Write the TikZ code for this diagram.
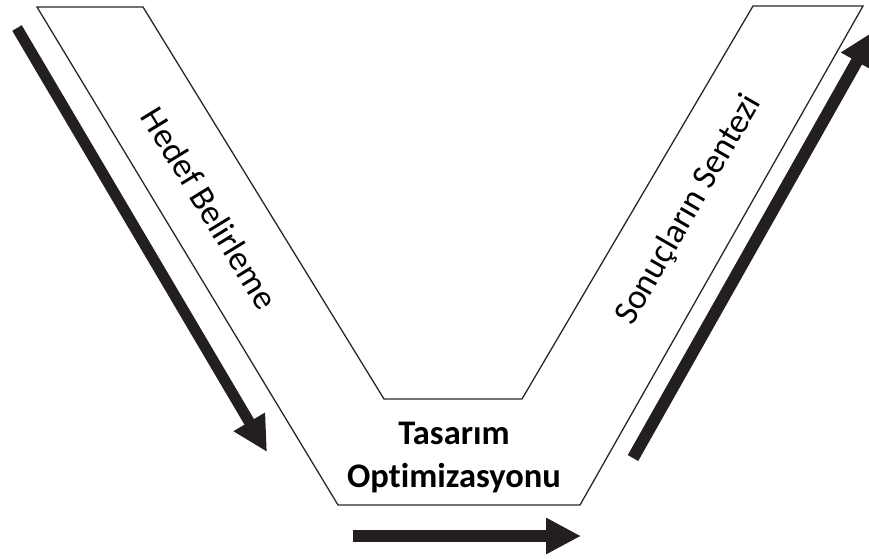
\documentclass[tikz,border=0pt]{standalone}
\usepackage{fontspec}
\setmainfont{Carlito}[Ligatures=NoCommon]
\usetikzlibrary{arrows.meta}
\definecolor{arrowblack}{RGB}{35,31,32}
\definecolor{edgegray}{RGB}{40,40,40}
\begin{document}
\begin{tikzpicture}[x=1pt,y=-1pt,
  band/.style={draw=edgegray,line width=1.3pt,line join=miter},
  bigarrow/.style={draw=arrowblack,line cap=butt,-{Triangle[length=35pt,width=34pt]}},
  sidetext/.style={font=\fontsize{35}{40}\selectfont,inner sep=0pt},
  midtext/.style={font=\bfseries\fontsize{34.5}{43}\selectfont,align=center,inner sep=0pt}]
\clip (0,0) rectangle (869,558);
\fill[white] (0,0) rectangle (869,558);
% V band
\draw[band] (37,7) -- (143,7) -- (384,399) -- (522,399) -- (753,6) -- (863,6)
  -- (580,505) -- (338,505) -- cycle;
% texts
\node[sidetext,rotate=-58.5] (hedef) at (210,208) {Hedef Belirleme};
\node[sidetext,rotate=60] (sonuc) at (689,210) {Sonuçların Sentezi};
\node[midtext] (tasarim) at (454,458) {Tasarım\\Optimizasyonu};
% arrows
\coordinate (a1s) at (17,28);
\coordinate (a1e) at (267,452);
\coordinate (a2s) at (353,536);
\coordinate (a2e) at (581,536);
\coordinate (a3s) at (633,458);
\coordinate (a3e) at (874,31);
\draw[bigarrow,line width=11pt] (a1s) -- (a1e);
\draw[bigarrow,line width=12pt] (a2s) -- (a2e);
\draw[bigarrow,line width=12pt] (a3s) -- (a3e);
\end{tikzpicture}
\end{document}
